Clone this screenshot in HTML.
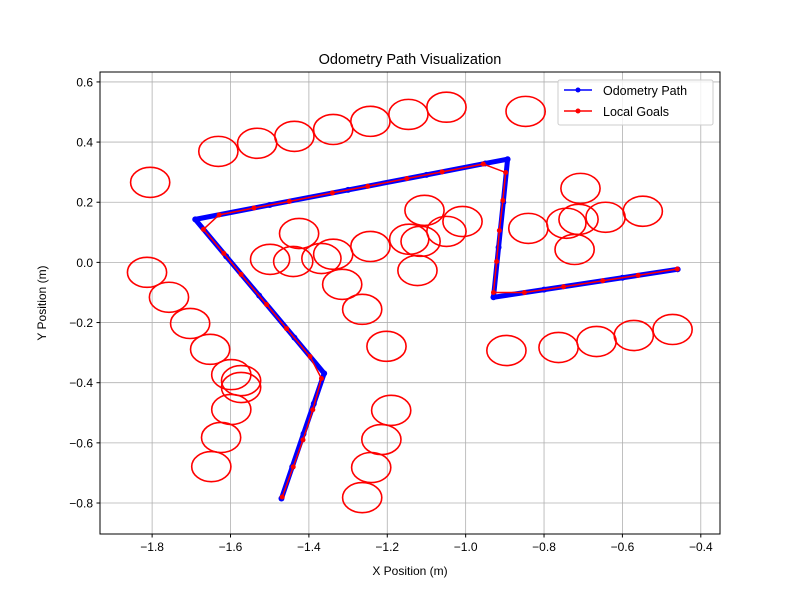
<!DOCTYPE html>
<html><head><meta charset="utf-8"><style>
body{margin:0;background:#fff;}
svg text{font-family:"Liberation Sans","DejaVu Sans",sans-serif;}
</style></head><body>
<svg id="chart" width="800" height="600">
<rect width="800" height="600" fill="#fff"/>
<g id="grid"></g>
<g id="marks"></g>
<rect x="100" y="72" width="620" height="462" fill="none" stroke="#000" stroke-width="1"/>
<g id="axes"></g>
<text x="410" y="64" text-anchor="middle" font-size="14.5">Odometry Path Visualization</text>
<text x="410" y="575" text-anchor="middle" font-size="12">X Position (m)</text>
<text x="46" y="303" text-anchor="middle" font-size="12" transform="rotate(-90 46 303)">Y Position (m)</text>
<g>
<rect x="558" y="80" width="155" height="45" fill="#fff" fill-opacity="0.8" stroke="#ccc" rx="2"/>
<g>
<line x1="564" y1="90" x2="592" y2="90" stroke="#0000ff" stroke-width="1.5"/><circle cx="578" cy="90" r="2.5" fill="#0000ff"/>
<text x="603" y="95" font-size="12.5">Odometry Path</text></g>
<g>
<line x1="564" y1="111" x2="592" y2="111" stroke="#ff0000" stroke-width="1.5"/><circle cx="578" cy="111" r="2.5" fill="#ff0000"/>
<text x="603" y="116" font-size="12.5">Local Goals</text></g>
</g>
</svg>
<script>
const xTicks=[-1.8,-1.6,-1.4,-1.2,-1.0,-0.8,-0.6,-0.4];
const yTicks=[0.6,0.4,0.2,0.0,-0.2,-0.4,-0.6,-0.8];
const xTickLabels=["−1.8","−1.6","−1.4","−1.2","−1.0","−0.8","−0.6","−0.4"];
const yTickLabels=["0.6","0.4","0.2","0.0","−0.2","−0.4","−0.6","−0.8"];
const odomX=[-1.470,-1.4425,-1.4137,-1.3875,-1.361,-1.437,-1.527,-1.611,-1.690,-1.5,-1.3,-1.1,-0.95,-0.893,-0.904,-0.916,-0.929,-0.8,-0.6,-0.459];
const odomY=[-0.785,-0.68,-0.57,-0.47,-0.369,-0.25,-0.11,0.02,0.143,0.191,0.241,0.291,0.329,0.343,0.2,0.05,-0.116,-0.0905,-0.051,-0.023];
const goalX=[-1.468,-1.44,-1.415,-1.39,-1.368,-1.397,-1.457,-1.508,-1.573,-1.617,-1.669,-1.629,-1.54,-1.45,-1.34,-1.25,-1.15,-1.06,-0.955,-0.898,-0.905,-0.914,-0.921,-0.929,-0.85,-0.75,-0.65,-0.56,-0.46];
const goalY=[-0.78,-0.68,-0.59,-0.49,-0.386,-0.313,-0.22,-0.14,-0.04,0.03,0.11,0.158,0.181,0.203,0.231,0.253,0.279,0.301,0.327,0.299,0.206,0.106,0.003,-0.1,-0.100,-0.081,-0.061,-0.043,-0.022];
const obsX=[-1.805,-1.631,-1.532,-1.437,-1.338,-1.243,-1.146,-1.049,-0.847,-1.813,-1.757,-1.703,-1.652,-1.598,-1.573,-1.573,-1.598,-1.624,-1.649,-1.425,-1.499,-1.440,-1.368,-1.338,-1.243,-1.315,-1.264,-1.202,-1.190,-1.215,-1.241,-1.264,-1.105,-1.144,-1.115,-1.049,-1.008,-1.123,-0.840,-0.707,-0.743,-0.712,-0.643,-0.548,-0.722,-0.896,-0.763,-0.666,-0.571,-0.472];
const obsY=[0.266,0.369,0.396,0.419,0.442,0.469,0.492,0.516,0.502,-0.033,-0.116,-0.203,-0.289,-0.373,-0.393,-0.416,-0.489,-0.582,-0.679,0.096,0.010,0.003,0.013,0.027,0.053,-0.073,-0.156,-0.279,-0.492,-0.589,-0.682,-0.782,0.173,0.077,0.070,0.103,0.136,-0.027,0.113,0.246,0.130,0.143,0.150,0.170,0.043,-0.293,-0.283,-0.263,-0.243,-0.223];
const obsR=0.05;
const X0=-1.933,X1=-0.351,Y0=-0.903,Y1=0.633,L=100,R=720,T=72,B=534;
const sx=v=>L+(v-X0)/(X1-X0)*(R-L);
const sy=v=>B-(v-Y0)/(Y1-Y0)*(B-T);
const NS="http://www.w3.org/2000/svg";
function mk(tag,attrs,parent){const e=document.createElementNS(NS,tag);for(const k in attrs)e.setAttribute(k,attrs[k]);parent.appendChild(e);return e;}
const grid=document.getElementById('grid'),axes=document.getElementById('axes'),marks=document.getElementById('marks');
xTicks.forEach((t,i)=>{const x=sx(t);
 const g=mk('line',{x1:x,x2:x,y1:T,y2:B,stroke:'#b0b0b0','stroke-width':0.8},grid);
 
 
 mk('line',{x1:x,x2:x,y1:B,y2:B+3.5,stroke:'#000'},axes);
 const tx=mk('text',{x:x,y:B+17,'text-anchor':'middle','font-size':12},axes);tx.textContent=xTickLabels[i];
 
 });
yTicks.forEach((t,i)=>{const y=sy(t);
 const g=mk('line',{x1:L,x2:R,y1:y,y2:y,stroke:'#b0b0b0','stroke-width':0.8},grid);
 
 
 mk('line',{x1:L-3.5,x2:L,y1:y,y2:y,stroke:'#000'},axes);
 const tx=mk('text',{x:L-7,y:y+4.5,'text-anchor':'end','font-size':12},axes);tx.textContent=yTickLabels[i];
 
 });
obsX.forEach((v,i)=>{const c=mk('ellipse',{cx:sx(v),cy:sy(obsY[i]),rx:obsR/(X1-X0)*(R-L),ry:obsR/(Y1-Y0)*(B-T),fill:'none',stroke:'#ff0000','stroke-width':1.6},marks);
 
 });
const op=mk('polyline',{points:odomX.map((v,i)=>sx(v)+','+sy(odomY[i])).join(' '),fill:'none',stroke:'#0000ff','stroke-width':5,'stroke-linejoin':'round'},marks);


odomX.forEach((v,i)=>{const c=mk('circle',{cx:sx(v),cy:sy(odomY[i]),r:3,fill:'#0000ff'},marks);
 
 });
const gp=mk('polyline',{points:goalX.map((v,i)=>sx(v)+','+sy(goalY[i])).join(' '),fill:'none',stroke:'#ff0000','stroke-width':1.5},marks);


goalX.forEach((v,i)=>{const c=mk('circle',{cx:sx(v),cy:sy(goalY[i]),r:2.5,fill:'#ff0000'},marks);
 
 });
</script>
</body></html>
